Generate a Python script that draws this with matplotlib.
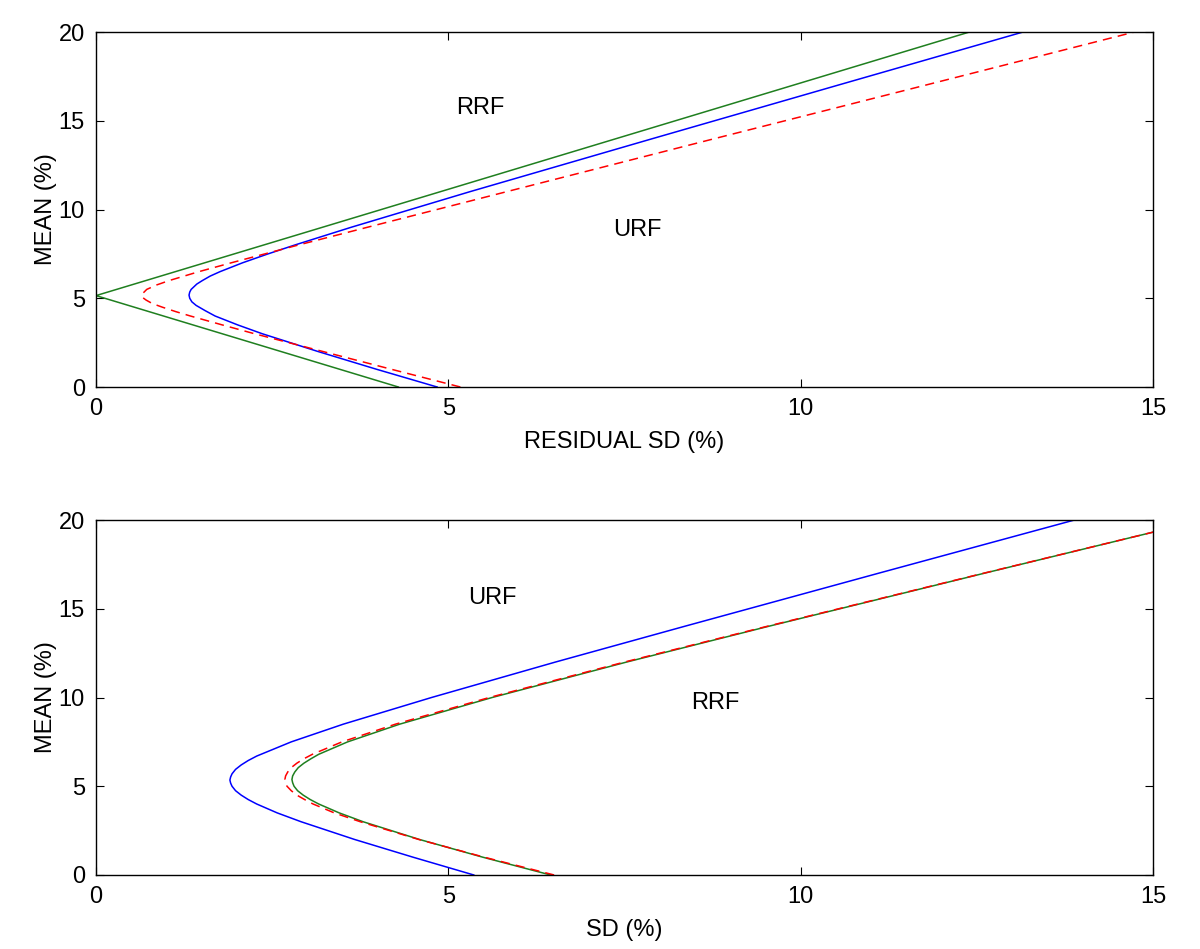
import numpy as np
import matplotlib
matplotlib.use("Agg")
from matplotlib import pyplot as plt

plt.rcParams['font.family'] = ['Liberation Sans', 'DejaVu Sans']

# top panel: residual SD vs mean
top_green_sd = [12.39, 0.0, 4.29]
top_green_mean = [20.0, 5.15, 0.0]

top_blue_sd = [4.84, 3.98, 3.15, 2.36, 2.01, 1.69, 1.55, 1.42, 1.36, 1.33, 1.32, 1.33, 1.35,
               1.43, 1.51, 1.62, 1.76, 2.08, 2.44, 2.82, 3.62, 5.30, 7.90, 10.52, 13.15]
top_blue_mean = [0.0, 1.0, 2.0, 3.0, 3.5, 4.0, 4.3, 4.6, 4.8, 5.0, 5.18, 5.35, 5.5,
                 5.8, 6.0, 6.25, 6.5, 7.0, 7.5, 8.0, 9.0, 11.0, 14.0, 17.0, 20.0]

top_red_sd = [5.17, 4.19, 3.22, 2.25, 1.79, 1.34, 1.13, 0.94, 0.80, 0.71, 0.66, 0.65, 0.67,
              0.72, 0.86, 1.04, 1.46, 1.92, 2.87, 3.85, 5.82, 8.78, 11.76, 14.73]
top_red_mean = [0.0, 1.0, 2.0, 3.0, 3.5, 4.0, 4.25, 4.5, 4.7, 4.9, 5.05, 5.18, 5.3,
                5.5, 5.75, 6.0, 6.5, 7.0, 8.0, 9.0, 11.0, 14.0, 17.0, 20.0]

# bottom panel: SD vs mean
bot_blue_sd = [5.36, 4.50, 3.67, 2.91, 2.57, 2.28, 2.16, 2.06, 1.98, 1.93, 1.91, 1.90, 1.91,
               1.93, 1.98, 2.06, 2.16, 2.28, 2.77, 3.51, 4.76, 6.52, 8.34, 11.10, 13.88]
bot_blue_mean = [0.0, 1.0, 2.0, 3.0, 3.5, 4.0, 4.25, 4.5, 4.75, 5.0, 5.18, 5.35, 5.52,
                 5.7, 5.95, 6.2, 6.45, 6.7, 7.5, 8.5, 10.0, 12.0, 14.0, 17.0, 20.0]

bot_green_sd = [6.45, 5.49, 4.59, 3.79, 3.45, 3.16, 3.04, 2.94, 2.86, 2.81, 2.79, 2.78, 2.79,
                2.82, 2.87, 2.95, 3.05, 3.16, 3.57, 4.31, 5.62, 7.53, 9.53, 12.60, 15.0]
bot_green_mean = [0.0, 1.0, 2.0, 3.0, 3.5, 4.0, 4.25, 4.5, 4.75, 5.0, 5.2, 5.38, 5.58,
                  5.8, 6.05, 6.3, 6.55, 6.8, 7.5, 8.5, 10.0, 12.0, 14.0, 17.0, 19.32]

bot_red_sd = [6.50, 5.51, 4.58, 3.75, 3.38, 3.08, 2.96, 2.85, 2.77, 2.71, 2.69, 2.68, 2.69,
              2.72, 2.77, 2.85, 2.95, 3.07, 3.49, 4.25, 5.58, 7.50, 9.51, 12.59, 15.0]
bot_red_mean = [0.0, 1.0, 2.0, 3.0, 3.5, 4.0, 4.25, 4.5, 4.75, 5.0, 5.2, 5.38, 5.58,
                5.8, 6.05, 6.3, 6.55, 6.8, 7.5, 8.5, 10.0, 12.0, 14.0, 17.0, 19.32]

xticks = [0, 5, 10, 15]
yticks = [0, 5, 10, 15, 20]

BLUE = '#0000ff'
GREEN = '#1f7f1f'
RED = '#ff0000'
FS = 17

fig = plt.figure(figsize=(12, 9.49), dpi=100)
ax1 = fig.add_axes([0.080, 0.5922, 0.881, 0.374])
ax2 = fig.add_axes([0.080, 0.0780, 0.881, 0.374])

ax1.plot(top_green_sd, top_green_mean, color=GREEN, lw=1.1)
ax1.plot(top_blue_sd, top_blue_mean, color=BLUE, lw=1.1)
ax1.plot(top_red_sd, top_red_mean, color=RED, lw=1.1, ls=(0, (6, 4)))
ax1.text(5.45, 15.7, 'RRF', fontsize=FS, ha='center', va='center')
ax1.text(7.68, 8.85, 'URF', fontsize=FS, ha='center', va='center')
ax1.set_xlabel('RESIDUAL SD (%)', fontsize=FS, labelpad=8)

ax2.plot(bot_blue_sd, bot_blue_mean, color=BLUE, lw=1.1)
ax2.plot(bot_green_sd, bot_green_mean, color=GREEN, lw=1.1)
ax2.plot(bot_red_sd, bot_red_mean, color=RED, lw=1.1, ls=(0, (6, 4)))
ax2.text(5.63, 15.6, 'URF', fontsize=FS, ha='center', va='center')
ax2.text(8.79, 9.7, 'RRF', fontsize=FS, ha='center', va='center')
ax2.set_xlabel('SD (%)', fontsize=FS, labelpad=8)

for ax in (ax1, ax2):
    ax.set_xlim(0, 15)
    ax.set_ylim(0, 20)
    ax.set_xticks(xticks)
    ax.set_yticks(yticks)
    ax.set_ylabel('MEAN (%)', fontsize=FS, labelpad=1)
    ax.tick_params(direction='in', top=True, right=True, length=6, labelsize=FS, pad=8)
    for s in ax.spines.values():
        s.set_linewidth(1.0)

fig.savefig('out.png', dpi=100)
